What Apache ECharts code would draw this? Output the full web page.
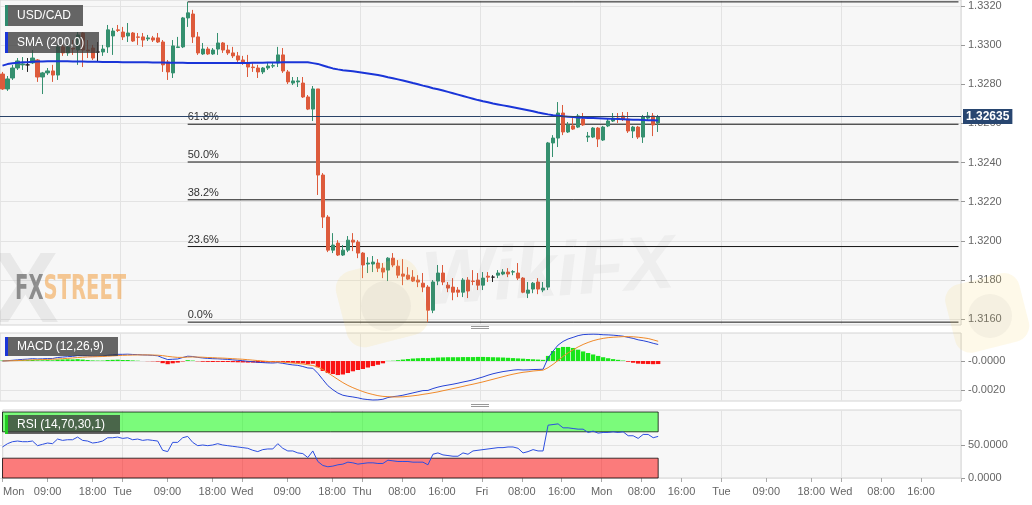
<!DOCTYPE html>
<html>
<head>
<meta charset="utf-8">
<title>USD/CAD</title>
<script src="https://cdn.jsdelivr.net/npm/echarts@6.0.0/dist/echarts.min.js"></script>
<style>
html,body{margin:0;padding:0;background:#ffffff;}
#chart{width:1032px;height:505px;}
</style>
</head>
<body>
<div id="chart"></div>
<script>
// ---------------- data ----------------
const dayNames = ['Mon','Tue','Wed','Thu','Fri','Mon','Tue','Wed'];
const tickSlots = [0,9,18,24,33,42,48,57,66,72,80,88,96,104,112,120,128,136,144,153,162,168,176,184];
const tickLabels = ['Mon','09:00','18:00','Tue','09:00','18:00','Wed','09:00','18:00','Thu','08:00','16:00','Fri','08:00','16:00','Mon','08:00','16:00','Tue','09:00','18:00','Wed','08:00','16:00'];

const openP = [1.32852,1.32776,1.32832,1.32883,1.32899,1.32899,1.32909,1.32924,1.32837,1.32858,
 1.32868,1.32847,1.32991,1.32960,1.32985,1.32975,1.33062,1.32975,1.32985,1.32965,
 1.32965,1.32991,1.33047,1.33078,1.33067,1.33047,1.33062,1.33042,1.33042,1.33032,
 1.33037,1.33037,1.33016,1.32914,1.32858,1.32988,1.32991,1.33139,1.33159,1.33042,
 1.32955,1.32980,1.32955,1.32980,1.33011,1.32975,1.32960,1.32945,1.32924,1.32909,
 1.32888,1.32883,1.32863,1.32883,1.32893,1.32909,1.32950,1.32863,1.32806,1.32812,
 1.32806,1.32735,1.32673,1.32776,1.32336,1.32121,1.31952,1.31988,1.31927,1.31952,
 1.32003,1.31993,1.31937,1.31881,1.31881,1.31886,1.31860,1.31850,1.31911,1.31870,
 1.31830,1.31824,1.31814,1.31799,1.31783,1.31763,1.31645,1.31794,1.31835,1.31773,
 1.31763,1.31748,1.31737,1.31799,1.31794,1.31799,1.31773,1.31819,1.31814,1.31824,
 1.31830,1.31840,1.31840,1.31835,1.31809,1.31732,1.31753,1.31789,1.31748,1.31763,
 1.32500,1.32525,1.32653,1.32556,1.32587,1.32581,1.32622,1.32530,1.32530,1.32576,
 1.32515,1.32587,1.32612,1.32627,1.32638,1.32622,1.32561,1.32581,1.32530,1.32627,
 1.32638,1.32602];
const closeP = [1.32776,1.32827,1.32883,1.32919,1.32904,1.32899,1.32934,1.32837,1.32858,1.32868,
 1.32847,1.32991,1.32960,1.32991,1.32980,1.33052,1.32975,1.32970,1.32934,1.32965,
 1.32980,1.33078,1.33072,1.33075,1.33042,1.33062,1.33021,1.33040,1.33026,1.33037,
 1.33026,1.33016,1.32899,1.32863,1.32996,1.32991,1.33139,1.33165,1.33042,1.32960,
 1.32980,1.32955,1.32975,1.33011,1.32975,1.32960,1.32945,1.32924,1.32909,1.32888,
 1.32885,1.32863,1.32883,1.32893,1.32895,1.32950,1.32868,1.32812,1.32817,1.32817,
 1.32735,1.32673,1.32776,1.32336,1.32121,1.31952,1.31978,1.31927,1.31952,1.32003,
 1.31993,1.31937,1.31876,1.31886,1.31891,1.31860,1.31840,1.31911,1.31876,1.31824,
 1.31819,1.31804,1.31794,1.31789,1.31763,1.31645,1.31789,1.31835,1.31789,1.31758,
 1.31737,1.31737,1.31799,1.31743,1.31792,1.31773,1.31809,1.31814,1.31814,1.31835,
 1.31840,1.31830,1.31842,1.31809,1.31737,1.31748,1.31783,1.31753,1.31758,1.32500,
 1.32525,1.32653,1.32556,1.32592,1.32571,1.32638,1.32592,1.32535,1.32576,1.32520,
 1.32581,1.32612,1.32627,1.32625,1.32622,1.32561,1.32581,1.32530,1.32633,1.32638,
 1.32592,1.32635];
const lowP = [1.32771,1.32766,1.32822,1.32873,1.32873,1.32863,1.32904,1.32812,1.32750,1.32847,
 1.32812,1.32822,1.32945,1.32945,1.32950,1.32899,1.32888,1.32934,1.32924,1.32914,
 1.32945,1.32960,1.32950,1.33067,1.33026,1.33016,1.33016,1.33001,1.32991,1.33021,
 1.33016,1.33011,1.32863,1.32822,1.32832,1.32985,1.32985,1.33093,1.33011,1.32950,
 1.32950,1.32950,1.32950,1.32950,1.32960,1.32950,1.32934,1.32914,1.32899,1.32837,
 1.32863,1.32832,1.32852,1.32873,1.32883,1.32888,1.32858,1.32801,1.32796,1.32786,
 1.32730,1.32668,1.32612,1.32234,1.32065,1.31942,1.31937,1.31922,1.31922,1.31942,
 1.31947,1.31911,1.31809,1.31835,1.31840,1.31840,1.31809,1.31794,1.31865,1.31809,
 1.31773,1.31799,1.31789,1.31763,1.31737,1.31584,1.31630,1.31773,1.31773,1.31737,
 1.31696,1.31712,1.31712,1.31707,1.31773,1.31748,1.31748,1.31789,1.31789,1.31809,
 1.31824,1.31814,1.31824,1.31799,1.31732,1.31707,1.31732,1.31727,1.31737,1.31748,
 1.32428,1.32479,1.32540,1.32551,1.32566,1.32576,1.32587,1.32505,1.32525,1.32479,
 1.32510,1.32581,1.32607,1.32602,1.32612,1.32551,1.32525,1.32520,1.32500,1.32617,
 1.32535,1.32556];
const highP = [1.32863,1.32842,1.32899,1.32934,1.32939,1.32934,1.32975,1.32929,1.32863,1.32883,
 1.32899,1.33001,1.33006,1.33006,1.33026,1.33067,1.33067,1.33026,1.33001,1.33016,
 1.33001,1.33103,1.33088,1.33103,1.33093,1.33113,1.33067,1.33062,1.33062,1.33052,
 1.33047,1.33062,1.33026,1.32924,1.33026,1.33042,1.33144,1.33221,1.33180,1.33067,
 1.33011,1.32991,1.32985,1.33062,1.33016,1.33001,1.32991,1.32965,1.32945,1.32950,
 1.32909,1.32899,1.32888,1.32914,1.32914,1.32991,1.32985,1.32873,1.32837,1.32837,
 1.32837,1.32745,1.32791,1.32776,1.32346,1.32131,1.32039,1.32003,1.31978,1.32024,
 1.32039,1.32003,1.31942,1.31916,1.31922,1.31906,1.31886,1.31916,1.31937,1.31901,
 1.31906,1.31865,1.31850,1.31824,1.31835,1.31773,1.31799,1.31876,1.31876,1.31789,
 1.31809,1.31763,1.31809,1.31814,1.31850,1.31835,1.31840,1.31840,1.31824,1.31850,
 1.31855,1.31860,1.31850,1.31886,1.31814,1.31789,1.31789,1.31809,1.31789,1.32505,
 1.32540,1.32709,1.32694,1.32607,1.32627,1.32648,1.32653,1.32556,1.32581,1.32581,
 1.32587,1.32622,1.32653,1.32653,1.32658,1.32658,1.32587,1.32587,1.32643,1.32658,
 1.32653,1.32643];
const sma200 = [1.32895,1.32903,1.32907,1.32910,1.32912,1.32913,1.32915,1.32916,1.32916,1.32917,
 1.32917,1.32917,1.32917,1.32917,1.32916,1.32916,1.32916,1.32915,1.32915,1.32915,
 1.32914,1.32914,1.32914,1.32914,1.32913,1.32913,1.32913,1.32912,1.32912,1.32912,
 1.32911,1.32911,1.32911,1.32910,1.32910,1.32910,1.32910,1.32909,1.32909,1.32909,
 1.32909,1.32909,1.32909,1.32909,1.32909,1.32909,1.32909,1.32909,1.32909,1.32909,
 1.32910,1.32910,1.32910,1.32911,1.32911,1.32911,1.32912,1.32912,1.32912,1.32912,
 1.32912,1.32912,1.32908,1.32904,1.32896,1.32888,1.32881,1.32876,1.32872,1.32869,
 1.32866,1.32863,1.32859,1.32855,1.32851,1.32847,1.32842,1.32836,1.32831,1.32825,
 1.32819,1.32813,1.32806,1.32800,1.32793,1.32787,1.32780,1.32774,1.32768,1.32761,
 1.32754,1.32747,1.32740,1.32733,1.32726,1.32719,1.32713,1.32708,1.32702,1.32697,
 1.32692,1.32687,1.32682,1.32677,1.32672,1.32667,1.32662,1.32656,1.32651,1.32646,
 1.32642,1.32639,1.32636,1.32634,1.32632,1.32630,1.32629,1.32628,1.32627,1.32626,
 1.32625,1.32624,1.32623,1.32622,1.32621,1.32620,1.32619,1.32618,1.32617,1.32616,
 1.32616,1.32615];
const macdLine = [0.00000,0.00002,0.00005,0.00008,0.00011,0.00013,0.00016,0.00014,0.00015,0.00017,
 0.00017,0.00024,0.00027,0.00030,0.00032,0.00037,0.00036,0.00035,0.00033,0.00033,
 0.00034,0.00040,0.00043,0.00046,0.00046,0.00047,0.00045,0.00044,0.00042,0.00041,
 0.00039,0.00036,0.00022,0.00010,0.00012,0.00014,0.00024,0.00033,0.00031,0.00025,
 0.00021,0.00018,0.00016,0.00015,0.00013,0.00011,0.00008,0.00005,0.00002,-0.00002,
 -0.00005,-0.00009,-0.00011,-0.00013,-0.00014,-0.00011,-0.00016,-0.00022,-0.00027,-0.00030,
 -0.00038,-0.00048,-0.00050,-0.00085,-0.00128,-0.00170,-0.00198,-0.00221,-0.00236,-0.00243,
 -0.00248,-0.00254,-0.00262,-0.00266,-0.00269,-0.00268,-0.00264,-0.00252,-0.00246,-0.00242,
 -0.00236,-0.00228,-0.00220,-0.00212,-0.00204,-0.00203,-0.00190,-0.00180,-0.00172,-0.00166,
 -0.00160,-0.00153,-0.00145,-0.00138,-0.00130,-0.00120,-0.00110,-0.00098,-0.00088,-0.00080,
 -0.00073,-0.00068,-0.00063,-0.00060,-0.00062,-0.00061,-0.00059,-0.00058,-0.00057,0.00020,
 0.00068,0.00110,0.00135,0.00152,0.00163,0.00175,0.00182,0.00184,0.00185,0.00184,
 0.00181,0.00180,0.00178,0.00175,0.00171,0.00163,0.00156,0.00146,0.00140,0.00132,
 0.00122,0.00114];
const signalLine = [0.00000,0.00001,0.00002,0.00003,0.00005,0.00006,0.00008,0.00009,0.00010,0.00011,
 0.00012,0.00014,0.00016,0.00018,0.00021,0.00024,0.00026,0.00028,0.00029,0.00030,
 0.00031,0.00033,0.00035,0.00037,0.00039,0.00040,0.00041,0.00042,0.00042,0.00042,
 0.00041,0.00040,0.00037,0.00032,0.00028,0.00025,0.00025,0.00027,0.00028,0.00027,
 0.00026,0.00024,0.00023,0.00021,0.00020,0.00018,0.00016,0.00014,0.00012,0.00009,
 0.00006,0.00003,0.00000,-0.00003,-0.00005,-0.00006,-0.00008,-0.00011,-0.00014,-0.00017,
 -0.00021,-0.00026,-0.00031,-0.00042,-0.00059,-0.00081,-0.00104,-0.00127,-0.00149,-0.00168,
 -0.00184,-0.00198,-0.00211,-0.00222,-0.00231,-0.00239,-0.00244,-0.00246,-0.00248,-0.00248,
 -0.00247,-0.00244,-0.00240,-0.00236,-0.00230,-0.00225,-0.00219,-0.00213,-0.00205,-0.00198,
 -0.00190,-0.00183,-0.00175,-0.00167,-0.00160,-0.00152,-0.00144,-0.00135,-0.00126,-0.00117,
 -0.00108,-0.00099,-0.00091,-0.00084,-0.00078,-0.00074,-0.00069,-0.00066,-0.00063,-0.00046,
 -0.00023,0.00004,0.00032,0.00056,0.00077,0.00097,0.00114,0.00128,0.00140,0.00149,
 0.00156,0.00161,0.00164,0.00166,0.00168,0.00168,0.00167,0.00164,0.00160,0.00155,
 0.00146,0.00136];
const macdHist = [0.00003,0.00003,0.00004,0.00005,0.00006,0.00006,0.00007,0.00005,0.00005,0.00006,
 0.00005,0.00010,0.00011,0.00012,0.00011,0.00013,0.00010,0.00007,0.00004,0.00003,
 0.00003,0.00007,0.00008,0.00009,0.00007,0.00007,0.00004,0.00002,0.00000,-0.00001,
 -0.00002,-0.00004,-0.00015,-0.00022,-0.00016,-0.00011,-0.00003,0.00006,0.00003,-0.00002,
 -0.00005,-0.00006,-0.00007,-0.00006,-0.00007,-0.00007,-0.00008,-0.00009,-0.00010,-0.00011,
 -0.00011,-0.00012,-0.00011,-0.00010,-0.00009,-0.00005,-0.00008,-0.00011,-0.00013,-0.00013,
 -0.00017,-0.00022,-0.00019,-0.00043,-0.00069,-0.00083,-0.00090,-0.00097,-0.00093,-0.00083,
 -0.00071,-0.00062,-0.00055,-0.00045,-0.00035,-0.00026,-0.00016,0.00001,0.00002,0.00006,
 0.00010,0.00014,0.00017,0.00019,0.00021,0.00020,0.00022,0.00024,0.00025,0.00026,
 0.00026,0.00026,0.00027,0.00027,0.00027,0.00028,0.00028,0.00027,0.00026,0.00025,
 0.00024,0.00022,0.00020,0.00018,0.00016,0.00014,0.00012,0.00010,0.00008,0.00035,
 0.00069,0.00090,0.00097,0.00097,0.00090,0.00078,0.00066,0.00055,0.00045,0.00035,
 0.00026,0.00019,0.00013,0.00008,0.00003,-0.00005,-0.00012,-0.00018,-0.00020,-0.00021,
 -0.00022,-0.00021];
const rsi14 = [47,52,55,56,55,55,56,49,51,53,
 52,59,57,58,58,62,57,56,53,54,
 56,61,61,62,60,61,58,59,57,58,
 57,56,42,40,54,54,61,63,54,49,
 50,49,50,52,50,49,48,47,46,45,
 42,40,43,44,44,52,45,41,41,38,
 37,31,41,25,19,17,18,20,21,24,
 23,21,22,23,23,22,22,27,26,25,
 25,25,24,24,24,20,36,38,35,34,
 33,33,38,36,41,42,43,44,45,46,
 46,47,47,45,38,40,43,41,41,80,
 81,82,76,76,75,74,74,69,71,68,
 69,69,70,69,70,64,64,60,66,66,
 61,63];
const fibRatios = [0, 0.236, 0.382, 0.5, 0.618, 1];
const rsiUpper = 70, rsiLower = 30;

// ---------------- derived ----------------
const categories = [];
dayNames.forEach(d => { for (let h = 0; h < 24; h++) categories.push(d + ' ' + String(h).padStart(2, '0') + ':00'); });
const tickMap = {};
tickSlots.forEach((s, i) => { tickMap[s] = tickLabels[i]; });
const isTickSlot = (i) => tickMap[i] !== undefined;
const isDayStart = (i) => i > 0 && i % 24 === 0;
const candles = openP.map((o, i) => [o, closeP[i], lowP[i], highP[i]]);
const lastIdx = categories.length - 1;
const lastCandle = closeP.length - 1;
const lastPrice = closeP[lastCandle];
const fibHigh = Math.max(...highP), fibLow = Math.min(...lowP);
const fibStart = highP.indexOf(fibHigh);

const FONT = '"Liberation Sans", Arial, Helvetica, sans-serif';
const UP = '#35906f', DOWN = '#dd5b3c';
const GL = 0, GW = 961;
const frame = { show: true, backgroundColor: '#f7f7f7', borderColor: '#d4d4d4', borderWidth: 1 };
const axisTxt = { color: '#666', fontSize: 11, fontFamily: FONT };

function frameX(gi, withLabels) {
  const ax = {
    type: 'category', gridIndex: gi, data: categories, boundaryGap: true,
    axisLine: { show: false },
    axisTick: { show: false },
    axisLabel: { show: false },
    splitLine: { show: true, interval: isDayStart, lineStyle: { color: '#e3e3e3', width: 1 } }
  };
  if (withLabels) {
    ax.axisTick = { show: true, interval: isTickSlot, length: 4, lineStyle: { color: '#aaa' } };
    ax.axisLabel = Object.assign({}, axisTxt, {
      show: true, interval: isTickSlot, margin: 8, padding: [0, 5, 0, 0],
      formatter: (v, i) => i === 0 ? '{m|' + tickMap[i] + '}' : tickMap[i],
      rich: { m: { padding: [0, 0, 0, 22], color: '#666', fontSize: 11, fontFamily: FONT } }
    });
  }
  return ax;
}
function valueX(gi) {
  return { type: 'category', gridIndex: gi, data: categories, boundaryGap: true, show: false };
}

const fibSeries = fibRatios.map(r => {
  const v = fibLow + (fibHigh - fibLow) * r;
  return {
    type: 'line', xAxisIndex: 3, yAxisIndex: 3, silent: true, clip: false, z: 2,
    symbol: 'circle', symbolSize: 1, showSymbol: true,
    itemStyle: { color: 'rgba(0,0,0,0)' },
    lineStyle: { color: '#151515', width: 1 },
    label: { show: false },
    data: [
      { value: [fibStart, v], label: { show: r < 1, position: 'top', align: 'left', distance: 1,
        formatter: (r * 100).toFixed(1) + '%', color: '#333', fontSize: 11, fontFamily: FONT } },
      { value: [lastIdx, v] }
    ]
  };
});

function legendBox(x, y, w, h, stripe, label) {
  return [
    { type: 'rect', z: 100, shape: { x: x, y: y, width: w, height: h }, style: { fill: 'rgba(60,60,60,0.78)' } },
    { type: 'rect', z: 101, shape: { x: x, y: y, width: 3, height: h }, style: { fill: stripe } },
    { type: 'text', z: 102, x: x + 12, y: y + h / 2,
      style: { text: label, fill: '#ffffff', font: '12px ' + FONT, verticalAlign: 'middle', align: 'left' } }
  ];
}

const option = {
  animation: false,
  backgroundColor: '#ffffff',
  textStyle: { fontFamily: FONT },
  grid: [
    Object.assign({ left: GL, width: GW, top: 0, height: 325 }, frame),
    Object.assign({ left: GL, width: GW, top: 333, height: 68 }, frame),
    Object.assign({ left: GL, width: GW, top: 410, height: 68 }, frame),
    { left: GL, width: GW, top: 6, height: 313 },
    { left: GL, width: GW, top: 361, height: 29 },
    { left: GL, width: GW, top: 412, height: 66 }
  ],
  xAxis: [frameX(0, false), frameX(1, false), frameX(2, true), valueX(3), valueX(4), valueX(5)],
  yAxis: [
    { type: 'value', gridIndex: 0, min: 0, max: 1, show: false },
    { type: 'value', gridIndex: 1, min: 0, max: 1, show: false },
    { type: 'value', gridIndex: 2, min: 0, max: 1, show: false },
    { type: 'value', gridIndex: 3, position: 'right', min: 1.316, max: 1.332, interval: 0.002,
      axisLine: { show: false },
      axisTick: { show: true, length: 4, lineStyle: { color: '#999' } },
      axisLabel: Object.assign({}, axisTxt, { margin: 7, formatter: v => v.toFixed(4) }),
      splitLine: { show: true, lineStyle: { color: '#e3e3e3' } } },
    { type: 'value', gridIndex: 4, position: 'right', min: -0.002, max: 0, interval: 0.002,
      axisLine: { show: false },
      axisTick: { show: true, length: 4, lineStyle: { color: '#999' } },
      axisLabel: Object.assign({}, axisTxt, { margin: 7, formatter: v => Math.abs(v) < 1e-9 ? '-0.0000' : v.toFixed(4) }),
      splitLine: { show: true, lineStyle: { color: '#e3e3e3' } } },
    { type: 'value', gridIndex: 5, position: 'right', min: 0, max: 100, interval: 50,
      axisLine: { show: false },
      axisTick: { show: true, length: 4, lineStyle: { color: '#999' }, customValues: [0, 50] },
      axisLabel: Object.assign({}, axisTxt, { margin: 7, customValues: [0, 50], formatter: v => v >= 100 ? '' : v.toFixed(4) }),
      splitLine: { show: true, lineStyle: { color: '#e3e3e3' } } }
  ],
  series: [
    ...fibSeries,
    {
      type: 'candlestick', name: 'USD/CAD', xAxisIndex: 3, yAxisIndex: 3, clip: false, z: 3, silent: true,
      barWidth: '72%',
      data: candles,
      itemStyle: { color: UP, color0: DOWN, borderColor: UP, borderColor0: DOWN, borderColorDoji: '#222', borderWidth: 1 }
    },
    {
      type: 'line', name: 'SMA (200,0)', xAxisIndex: 3, yAxisIndex: 3, z: 4, silent: true,
      symbol: 'none', data: sma200, lineStyle: { color: '#1a35d8', width: 2 },
      markLine: {
        silent: true, symbol: ['none', 'none'], animation: false, precision: 5,
        lineStyle: { color: '#2a4368', width: 1, type: 'solid' },
        label: { show: true, position: 'end', distance: 2, formatter: lastPrice.toFixed(5),
          color: '#ffffff', fontWeight: 'bold', fontSize: 12, fontFamily: FONT,
          backgroundColor: '#284670', padding: [2, 3, 1, 3] },
        data: [{ yAxis: lastPrice }]
      }
    },
    {
      type: 'bar', name: 'hist', xAxisIndex: 4, yAxisIndex: 4, clip: false, silent: true, z: 2,
      barWidth: '86%', data: macdHist,
      itemStyle: { color: p => p.value >= 0 ? '#19e619' : '#fa1414' }
    },
    {
      type: 'line', name: 'MACD', xAxisIndex: 4, yAxisIndex: 4, clip: false, silent: true, z: 3,
      symbol: 'none', data: macdLine, lineStyle: { color: '#2643d6', width: 1 }
    },
    {
      type: 'line', name: 'Signal', xAxisIndex: 4, yAxisIndex: 4, clip: false, silent: true, z: 3,
      symbol: 'none', data: signalLine, lineStyle: { color: '#f08a2a', width: 1 }
    },
    {
      type: 'line', name: 'bands', xAxisIndex: 5, yAxisIndex: 5, silent: true, z: 1,
      symbol: 'none', data: rsi14, lineStyle: { opacity: 0 },
      markArea: {
        silent: true,
        data: [
          [{ coord: [0, rsiUpper], itemStyle: { color: 'rgba(0,255,0,0.5)', borderColor: 'rgba(0,0,0,0.75)', borderWidth: 1 } }, { coord: [lastCandle, 100] }],
          [{ coord: [0, 0], itemStyle: { color: 'rgba(255,0,0,0.5)', borderColor: 'rgba(0,0,0,0.75)', borderWidth: 1 } }, { coord: [lastCandle, rsiLower] }]
        ]
      }
    },
    {
      type: 'line', name: 'RSI', xAxisIndex: 5, yAxisIndex: 5, silent: true, z: 3,
      symbol: 'none', data: rsi14, lineStyle: { color: '#2c4ee0', width: 1 }
    }
  ],
  graphic: [
    // watermarks
    { type: 'text', z: 1, x: -8, y: 244, style: { text: 'X', font: 'bold 100px ' + FONT, fill: 'rgba(140,140,140,0.14)' } },
    { type: 'text', z: 60, x: 15, y: 273, scaleX: 0.64,
      style: { text: '{a|FX}{b|STREET}', rich: {
        a: { fill: 'rgba(110,110,110,0.75)', fontSize: 34, fontWeight: 'bold', fontFamily: '"Liberation Sans Narrow","DejaVu Sans Condensed",sans-serif' },
        b: { fill: 'rgba(242,172,92,0.65)', fontSize: 34, fontWeight: 'bold', fontFamily: '"Liberation Sans Narrow","DejaVu Sans Condensed",sans-serif' } } } },
    { type: 'rect', z: 60, x: 382, y: 302, rotation: 0.25, shape: { x: -42, y: -38, width: 84, height: 78, r: 18 }, style: { fill: 'rgba(250,212,100,0.14)' } },
    { type: 'circle', z: 61, shape: { cx: 386, cy: 306, r: 25 }, style: { fill: 'rgba(110,110,110,0.06)' } },
    { type: 'rect', z: 60, x: 987, y: 312, rotation: 0.25, shape: { x: -38, y: -34, width: 76, height: 70, r: 16 }, style: { fill: 'rgba(250,212,100,0.14)' } },
    { type: 'circle', z: 61, shape: { cx: 990, cy: 316, r: 22 }, style: { fill: 'rgba(110,110,110,0.06)' } },
    { type: 'text', z: 60, x: 420, y: 246, rotation: 0.07, style: { text: 'WikiFX', font: 'italic bold 76px ' + FONT, fill: 'rgba(90,90,90,0.055)' } },
    // panel drag handles
    { type: 'line', z: 50, shape: { x1: 471, y1: 326.5, x2: 489, y2: 326.5 }, style: { stroke: '#999', lineWidth: 1 } },
    { type: 'line', z: 50, shape: { x1: 471, y1: 328.5, x2: 489, y2: 328.5 }, style: { stroke: '#999', lineWidth: 1 } },
    { type: 'line', z: 50, shape: { x1: 471, y1: 404.5, x2: 489, y2: 404.5 }, style: { stroke: '#999', lineWidth: 1 } },
    { type: 'line', z: 50, shape: { x1: 471, y1: 406.5, x2: 489, y2: 406.5 }, style: { stroke: '#999', lineWidth: 1 } },
    // legend boxes
    ...legendBox(5, 5, 78, 21, '#2e8b6e', 'USD/CAD'),
    ...legendBox(5, 32, 94, 21, '#1a35d8', 'SMA (200,0)'),
    ...legendBox(5, 337, 113, 19, '#1a35d8', 'MACD (12,26,9)'),
    ...legendBox(5, 415, 115, 19, '#22cc22', 'RSI (14,70,30,1)')
  ]
};

const chart = echarts.init(document.getElementById('chart'), null, { renderer: 'canvas' });
chart.setOption(option);
</script>
</body>
</html>
